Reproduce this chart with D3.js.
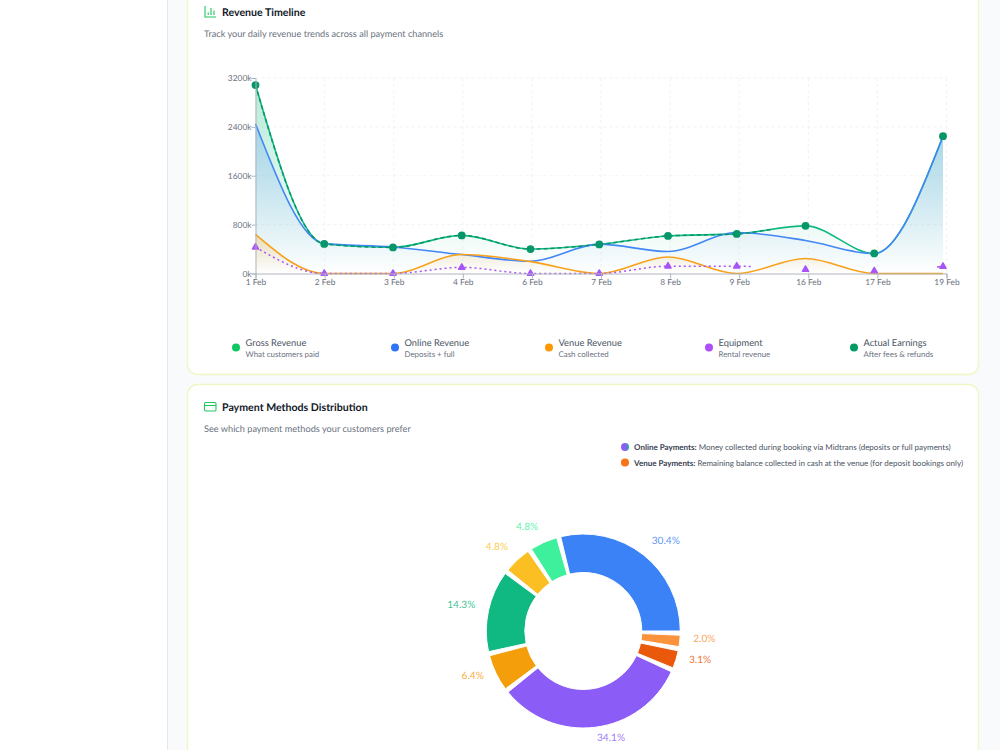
<!DOCTYPE html>
<html>
<head>
<meta charset="utf-8">
<script src="https://cdn.jsdelivr.net/npm/d3@7/dist/d3.min.js"></script>
<style>
  html, body { margin: 0; padding: 0; background: #f8fafc; overflow: hidden; }
  svg { display: block; font-family: Lato, "Noto Sans", sans-serif; text-rendering: geometricPrecision; }
</style>
</head>
<body>
<svg id="page" width="1000" height="750"></svg>
<script>
// Revenue timeline, thousands of rupiah per day
const days = ["1 Feb", "2 Feb", "3 Feb", "4 Feb", "6 Feb", "7 Feb", "8 Feb", "9 Feb", "16 Feb", "17 Feb", "19 Feb"];
const grossRevenue = [3085, 484, 427, 624, 400, 476, 615, 648, 780, 328, 2248];
const onlineRevenue = [2450, 490, 435, 310, 200, 480, 360, 670, 540, 325, 2248];
const venueRevenue = [640, 0, 0, 310, 195, 0, 270, 0, 245, 0, 0];
const equipmentRevenue = [430, 0, 0, 100, 0, 0, 120, 120, 65, 40, 115];
const actualEarnings = [3085, 484, 427, 624, 400, 476, 615, 648, 780, 328, 2248];
const yTicks = [0, 800, 1600, 2400, 3200];

// Payment method shares
const methodShares = [30.4, 4.8, 4.8, 14.3, 6.4, 34.1, 3.1, 2.0];
const methodColors = ["#3b82f6", "#3ef09c", "#fbbf24", "#10b981", "#f59e0b", "#8b5cf6", "#ea580c", "#fb923c"];

// Legend entries
const legendNames = ["Gross Revenue", "Online Revenue", "Venue Revenue", "Equipment", "Actual Earnings"];
const legendNotes = ["What customers paid", "Deposits + full", "Cash collected", "Rental revenue", "After fees & refunds"];
const legendColors = ["#0fc760", "#2f74f5", "#ff9800", "#ac4ffb", "#009a63"];
const legendX = [236, 395, 549, 709, 854];

const svg = d3.select("#page");
const defs = svg.append("defs");

// Page shell: sidebar and the two cards
svg.append("rect").attr("width", 167).attr("height", 750).attr("fill", "#fff");
svg.append("line").attr("x1", 167.5).attr("x2", 167.5).attr("y1", 0).attr("y2", 750).attr("stroke", "#e5e7eb");
[[-30, 405], [385, 400]].forEach(([top, h]) => {
  svg.append("rect").attr("x", 187.5).attr("y", top - 0.5).attr("width", 791).attr("height", h)
    .attr("rx", 10).attr("fill", "#fff").attr("stroke", "#f0f7c4").attr("stroke-width", 1.4);
});

// Card headings
function heading(title, note, y) {
  svg.append("text").attr("x", 222).attr("y", y).attr("font-size", 10.6).attr("font-weight", 700)
    .attr("fill", "#111827").text(title);
  svg.append("text").attr("x", 204).attr("y", y + 20.5).attr("font-size", 9.2).attr("fill", "#6b7280").text(note);
}
heading("Revenue Timeline", "Track your daily revenue trends across all payment channels", 16);
heading("Payment Methods Distribution", "See which payment methods your customers prefer", 411);

const iconGreen = "#22c55e";
const barIcon = svg.append("g").attr("fill", "none").attr("stroke", iconGreen).attr("stroke-width", 1.1)
  .attr("transform", "translate(205,6)");
barIcon.append("path").attr("d", "M0 0V11H11");
barIcon.append("path").attr("d", "M3.2 9V6.5M6 9V2M9 9V4.5");
svg.append("rect").attr("x", 204.5).attr("y", 402.5).attr("width", 11.5).attr("height", 8.5).attr("rx", 1.2)
  .attr("fill", "none").attr("stroke", iconGreen).attr("stroke-width", 1.1);
svg.append("line").attr("x1", 204.5).attr("x2", 216).attr("y1", 405.5).attr("y2", 405.5)
  .attr("stroke", iconGreen).attr("stroke-width", 1.1);

// Scales: points sit slightly inside the tick run
const tickX = d3.scalePoint().domain(days).range([255.5, 946.5]);
const x = d3.scalePoint().domain(days).range([255.5, 943]);
const y = d3.scaleLinear().domain([0, 3200]).range([273.5, 78]);

// Grid
const grid = svg.append("g").attr("stroke", "#e5e7eb").attr("stroke-dasharray", "3 3").attr("stroke-opacity", 0.55);
grid.selectAll("line.h").data(yTicks.slice(1)).join("line").attr("class", "h")
  .attr("x1", tickX.range()[0]).attr("x2", tickX.range()[1]).attr("y1", d => y(d)).attr("y2", d => y(d));
grid.selectAll("line.v").data(days.slice(1)).join("line").attr("class", "v")
  .attr("x1", d => tickX(d)).attr("x2", d => tickX(d)).attr("y1", y(3200)).attr("y2", y(0));

// Area gradients
function fade(id, color, top) {
  const g = defs.append("linearGradient").attr("id", id).attr("x1", 0).attr("x2", 0).attr("y1", 0).attr("y2", 1);
  g.append("stop").attr("offset", "0%").attr("stop-color", color).attr("stop-opacity", top);
  g.append("stop").attr("offset", "100%").attr("stop-color", color).attr("stop-opacity", 0);
}
fade("fadeGross", "#10b981", 0.3);
fade("fadeOnline", "#3b82f6", 0.25);
fade("fadeVenue", "#f59e0b", 0.25);

const curve = d3.curveMonotoneX;
const lineOf = d3.line().x((d, i) => x(days[i])).y(d => y(d)).curve(curve);
const areaOf = d3.area().x((d, i) => x(days[i])).y0(y(0)).y1(d => y(d)).curve(curve);

const chart = svg.append("g").attr("fill", "none");
chart.append("path").attr("d", areaOf(grossRevenue)).attr("fill", "url(#fadeGross)");
chart.append("path").attr("d", areaOf(onlineRevenue)).attr("fill", "url(#fadeOnline)");
chart.append("path").attr("d", areaOf(venueRevenue)).attr("fill", "url(#fadeVenue)");
chart.append("path").attr("d", lineOf(grossRevenue)).attr("stroke", "#10b981").attr("stroke-width", 1.6);
chart.append("path").attr("d", lineOf(onlineRevenue)).attr("stroke", "#4287f6").attr("stroke-width", 1.6);
chart.append("path").attr("d", lineOf(venueRevenue)).attr("stroke", "#f8a11a").attr("stroke-width", 1.6);

// Dash pattern that runs to a given x, leaves a gap, and resumes at another x
function lengthAtX(node, px) {
  let lo = 0, hi = node.getTotalLength();
  while (hi - lo > 0.25) {
    const mid = (lo + hi) / 2;
    if (node.getPointAtLength(mid).x < px) lo = mid; else hi = mid;
  }
  return lo;
}
function partialDash(node, on, off, stopX, resumeX) {
  const stop = lengthAtX(node, stopX), total = node.getTotalLength();
  const parts = [];
  let run = 0;
  while (run < stop) { parts.push(on, off); run += on + off; }
  if (resumeX) {
    const resume = lengthAtX(node, resumeX);
    parts[parts.length - 1] = off + resume - run;
    parts.push(total - resume, 0);
  } else {
    parts[parts.length - 1] = off + total;
  }
  return parts.join(" ");
}

const equipmentPath = chart.append("path").attr("d", lineOf(equipmentRevenue))
  .attr("stroke", "#a855f7").attr("stroke-width", 1.5);
equipmentPath.attr("stroke-dasharray", partialDash(equipmentPath.node(), 2, 3, 750, 937));
const actualPath = chart.append("path").attr("d", lineOf(actualEarnings))
  .attr("stroke", "#059669").attr("stroke-width", 1.5);
actualPath.attr("stroke-dasharray", partialDash(actualPath.node(), 4, 3, 772));

const triangle = d3.symbol().type(d3.symbolTriangle).size(17);
chart.selectAll("path.equipment").data(equipmentRevenue).join("path").attr("class", "equipment")
  .attr("d", triangle).attr("transform", (d, i) => `translate(${x(days[i])},${y(d)})`)
  .attr("fill", "#a855f7").attr("stroke", "#a855f7").attr("stroke-width", 1.4).attr("stroke-linejoin", "round");
chart.selectAll("circle.actual").data(actualEarnings).join("circle").attr("class", "actual")
  .attr("cx", (d, i) => x(days[i])).attr("cy", d => y(d)).attr("r", 3.9).attr("fill", "#059669");

// Axes
const axisColor = "#aeb4bd", tickColor = "#6b7280";
const xAxis = svg.append("g").attr("transform", `translate(0,${y(0)})`)
  .call(d3.axisBottom(tickX).tickSizeOuter(0).tickSize(5).tickPadding(1));
const yAxis = svg.append("g").attr("transform", `translate(${tickX.range()[0]},0)`)
  .call(d3.axisLeft(y).tickValues(yTicks).tickFormat(d => d + "k").tickSizeOuter(0).tickSize(4).tickPadding(0));
[xAxis, yAxis].forEach(a => {
  a.attr("font-family", null).attr("font-size", 8.4);
  a.selectAll("line, path").attr("stroke", axisColor);
  a.selectAll("text").attr("fill", tickColor);
});

// Timeline legend
const legendRows = svg.append("g").selectAll("g").data(legendNames).join("g")
  .attr("transform", (d, i) => `translate(${legendX[i]},0)`);
legendRows.append("circle").attr("cy", 347.5).attr("r", 4).attr("fill", (d, i) => legendColors[i]);
legendRows.append("text").attr("x", 9.5).attr("y", 346).attr("font-size", 9.3).attr("fill", "#4b5563").text(d => d);
legendRows.append("text").attr("x", 9.5).attr("y", 357).attr("font-size", 7.9).attr("fill", "#6b7280")
  .text((d, i) => legendNotes[i]);

// Payment type notes
const noteGradient = defs.append("linearGradient").attr("id", "onlineDot");
noteGradient.append("stop").attr("offset", "55%").attr("stop-color", "#8b5cf6");
noteGradient.append("stop").attr("offset", "100%").attr("stop-color", "#10b981");
function note(yPos, dotFill, bold, rest) {
  svg.append("circle").attr("cx", 625).attr("cy", yPos).attr("r", 4).attr("fill", dotFill);
  const t = svg.append("text").attr("x", 634).attr("y", yPos + 3).attr("font-size", 8).attr("fill", "#4b5563");
  t.append("tspan").attr("font-weight", 700).attr("fill", "#374151").text(bold);
  t.append("tspan").text(" " + rest);
}
note(447, "url(#onlineDot)", "Online Payments:", "Money collected during booking via Midtrans (deposits or full payments)");
note(462.5, "#f97316", "Venue Payments:", "Remaining balance collected in cash at the venue (for deposit bookings only)");

// Donut, drawn counter-clockwise from three o'clock with a fixed gap between slices
const cx = 583.3, cy = 631, outer = 97, inner = 58.5, labelR = 110.5;
const gap = 2.5 * Math.PI / 180;
const pie = d3.pie().sort(null).startAngle(Math.PI / 2).endAngle(Math.PI / 2 - 2 * Math.PI).padAngle(gap);
const arcOf = d3.arc().innerRadius(inner).outerRadius(outer);
const slices = pie(methodShares).map(s => ({ ...s, endAngle: s.endAngle + gap, padAngle: 0 }));
const donut = svg.append("g").attr("transform", `translate(${cx},${cy})`);
donut.selectAll("path").data(slices).join("path")
  .attr("d", arcOf).attr("fill", (d, i) => methodColors[i]).attr("stroke", "#fff").attr("stroke-width", 1);
donut.selectAll("text").data(slices).join("text")
  .each(function (d) {
    const mid = (d.startAngle + d.endAngle) / 2;
    const dx = Math.sin(mid) * labelR, dy = -Math.cos(mid) * labelR;
    d3.select(this).attr("x", dx).attr("y", dy).attr("text-anchor", dx >= 0 ? "start" : "end");
  })
  .attr("font-size", 10.1).attr("fill", (d, i) => methodColors[i]).attr("fill-opacity", 0.85)
  .text(d => d.value.toFixed(1) + "%");
</script>
</body>
</html>
